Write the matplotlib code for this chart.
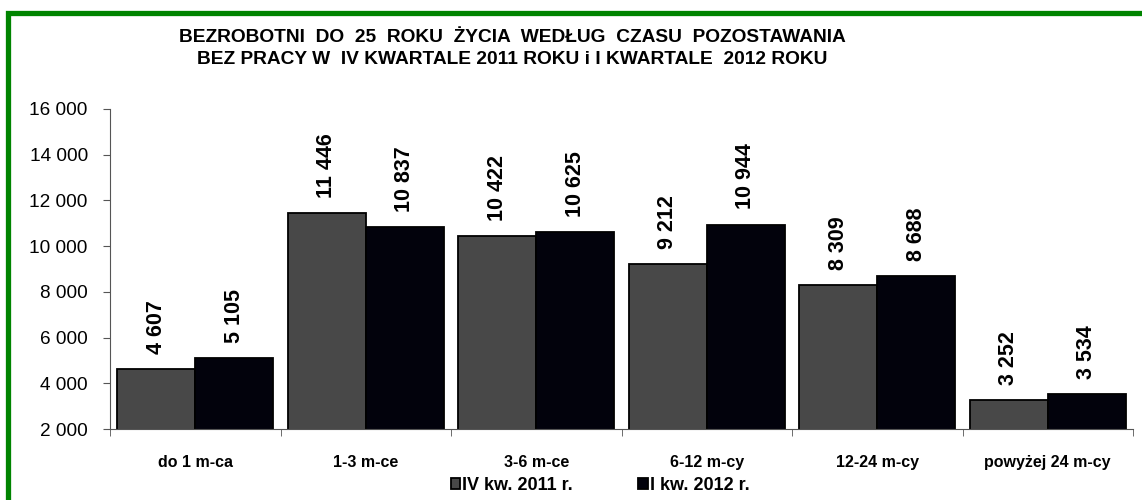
import numpy as np
import matplotlib.pyplot as plt
from matplotlib.patches import Rectangle

plt.rcParams['font.family'] = ['Liberation Sans', 'DejaVu Sans']

categories = ['do 1 m-ca', '1-3 m-ce', '3-6 m-ce', '6-12 m-cy', '12-24 m-cy', 'powyżej 24 m-cy']
q4_2011 = [4607, 11446, 10422, 9212, 8309, 3252]
q1_2012 = [5105, 10837, 10625, 10944, 8688, 3534]
series_names = ['IV kw. 2011 r.', 'I kw. 2012 r.']
yticks = [2000, 4000, 6000, 8000, 10000, 12000, 14000, 16000]

def fmt(v):
    return '{:,}'.format(v).replace(',', ' ')

fig = plt.figure(figsize=(11.42, 5), dpi=100)
ax = fig.add_axes([110/1142, 71/500, 1023/1142, 320/500])

# green frame, running off the right and bottom edges like the source
fig.patches.append(Rectangle((8/1142, -0.1), 1.2, 0.1 + 487.3/500, transform=fig.transFigure,
                             fill=False, edgecolor='#008400', linewidth=3.8))

x = np.arange(len(categories))
w = 0.457
b1 = ax.bar(x - w/2, q4_2011, w, color='#484848', edgecolor='black', linewidth=1.3,
            label=series_names[0])
b2 = ax.bar(x + w/2, q1_2012, w, color='#02020c', edgecolor='black', linewidth=1.3,
            label=series_names[1])

for bars, vals in ((b1, q4_2011), (b2, q1_2012)):
    for r, v in zip(bars, vals):
        ax.annotate(fmt(v), (r.get_x() + r.get_width()/2, v), xytext=(0, 11),
                    textcoords='offset points', rotation=90, ha='center', va='bottom',
                    fontsize=15.5, fontweight='bold')

ax.set_ylim(2000, 16000)
ax.set_xlim(-0.5, len(categories) - 0.5)
ax.set_yticks(yticks)
ax.set_yticklabels([fmt(t) for t in yticks], fontsize=13.7)
ax.set_xticks(x)
ax.set_xticklabels(categories, fontsize=11.5, fontweight='bold')
ax.set_xticks(np.arange(-0.5, len(categories)), minor=True)
ax.tick_params(axis='x', which='major', length=0, pad=19)
ax.tick_params(axis='x', which='minor', length=5, color='#555555')
ax.tick_params(axis='y', length=5, color='#555555', pad=11)
ax.spines['top'].set_visible(False)
ax.spines['right'].set_visible(False)
ax.spines['left'].set_color('#555555')
ax.spines['bottom'].set_color('#555555')

fig.text(512/1142, 1 - 38/500, 'BEZROBOTNI  DO  25  ROKU  ŻYCIA  WEDŁUG  CZASU  POZOSTAWANIA',
         ha='center', va='center', fontsize=13.8, fontweight='bold')
fig.text(512/1142, 1 - 60/500, 'BEZ PRACY W  IV KWARTALE 2011 ROKU i I KWARTALE  2012 ROKU',
         ha='center', va='center', fontsize=13.8, fontweight='bold')

fig.legend(loc='center', bbox_to_anchor=(600/1142, 1 - 485/500), ncol=2, frameon=False,
           prop={'size': 13, 'weight': 'bold'}, handlelength=0.55, handleheight=0.55,
           handletextpad=0.1, columnspacing=3.6)

fig.savefig('out.png', dpi=100)
